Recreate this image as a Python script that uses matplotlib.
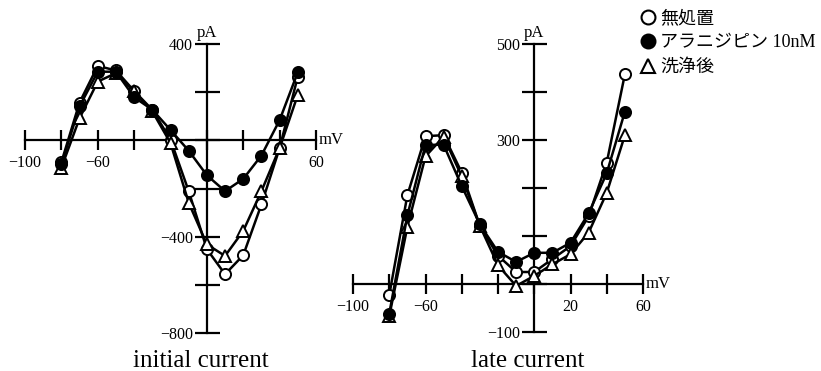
import matplotlib
matplotlib.use("Agg")
import matplotlib.pyplot as plt
from matplotlib.lines import Line2D
from matplotlib.ticker import FixedLocator, FixedFormatter

SERIF = "Liberation Serif"
JP = ["Liberation Serif", "Noto Sans CJK JP", "DejaVu Sans"]

# membrane potential (mV)
voltage = [-80, -70, -60, -50, -40, -30, -20, -10, 0, 10, 20, 30, 40, 50]

# initial current (pA)
initial_control = [-91, 157, 309, 290, 205, 127, 3, -211, -452, -556, -477, -266, -32, 265]
initial_drug = [-100, 141, 285, 285, 179, 127, 43, -43, -145, -211, -160, -63, 84, 283]
initial_wash = [-114, 92, 244, 279, 203, 120, -11, -259, -432, -480, -376, -211, -32, 189]

# late current (pA)
late_control = [-23, 185, 308, 310, 232, 121, 59, 25, 25, 52, 79, 141, 253, 437]
late_drug = [-62, 143, 290, 290, 204, 124, 67, 46, 65, 65, 86, 147, 231, 359]
late_wash = [-67, 119, 266, 307, 224, 121, 39, -4, 17, 41, 62, 107, 190, 310]

legend_labels = ["無処置", "アラニジピン 10nM", "洗浄後"]

W, H = 821, 371
fig = plt.figure(figsize=(W / 100, H / 100), dpi=100)


def make_axes(px_left, px_right, px_top, px_bottom, xlim, ylim):
    ax = fig.add_axes([px_left / W, 1 - px_bottom / H,
                       (px_right - px_left) / W, (px_bottom - px_top) / H])
    ax.set_xlim(*xlim)
    ax.set_ylim(*ylim)
    for s in ("top", "right"):
        ax.spines[s].set_visible(False)
    for s in ("left", "bottom"):
        ax.spines[s].set_position(("data", 0))
        ax.spines[s].set_linewidth(1.6)
    ax.patch.set_alpha(0)
    return ax


def style_ticks(ax, xticks, xlabels, yticks, ylabels):
    ax.xaxis.set_major_locator(FixedLocator(xticks))
    ax.xaxis.set_major_formatter(FixedFormatter(xlabels))
    ax.yaxis.set_major_locator(FixedLocator(yticks))
    ax.yaxis.set_major_formatter(FixedFormatter(ylabels))
    ax.tick_params(axis="x", direction="inout", length=15, width=1.6, pad=3,
                   labelsize=11.5)
    ax.tick_params(axis="y", direction="inout", length=18, width=1.6, pad=1,
                   labelsize=11.5)
    for lab in ax.get_xticklabels() + ax.get_yticklabels():
        lab.set_fontfamily(SERIF)


def plot_series(ax, ctrl, drug, wash):
    common = dict(color="black", lw=1.8, ms=8, mew=1.4, clip_on=False)
    ax.plot(voltage, ctrl, marker="o", mfc="white", mec="black", zorder=3, **common)
    ax.plot(voltage, wash, marker="^", mfc="white", mec="black", zorder=4,
            **{**common, "ms": 9})
    ax.plot(voltage, drug, marker="o", mfc="black", mec="black", zorder=5, **common)


def fmt(v):
    return f"\u2212{abs(v)}" if v < 0 else f"{v}"


# initial current panel
ax1 = make_axes(25, 316, 44, 333, (-100, 60), (-800, 400))
xt1 = list(range(-100, 61, 20))
yt1 = list(range(-800, 401, 200))
style_ticks(ax1, xt1, [fmt(v) if v in (-100, -60, 60) else "" for v in xt1],
            yt1, [fmt(v) if v in (-800, -400, 400) else "" for v in yt1])
plot_series(ax1, initial_control, initial_drug, initial_wash)
ax1.text(61.5, 0, "mV", ha="left", va="center", fontsize=12, fontfamily=SERIF)
ax1.text(0, 412, "pA", ha="center", va="bottom", fontsize=12, fontfamily=SERIF)
ax1.text(-3.2, -941, "initial current", ha="center", va="baseline", fontsize=18,
         fontfamily=SERIF)

# late current panel
ax2 = make_axes(353, 643, 44, 332, (-100, 60), (-100, 500))
xt2 = list(range(-100, 61, 20))
yt2 = list(range(-100, 501, 100))
style_ticks(ax2, xt2, [fmt(v) if v in (-100, -60, 20, 60) else "" for v in xt2],
            yt2, [fmt(v) if v in (-100, 300, 500) else "" for v in yt2])
plot_series(ax2, late_control, late_drug, late_wash)
ax2.text(61.5, 0, "mV", ha="left", va="center", fontsize=12, fontfamily=SERIF)
ax2.text(0, 506, "pA", ha="center", va="bottom", fontsize=12, fontfamily=SERIF)
ax2.text(-3.4, -173, "late current", ha="center", va="baseline", fontsize=18,
         fontfamily=SERIF)

handles = [
    Line2D([], [], ls="none", marker="o", ms=10, mfc="white", mec="black", mew=1.5),
    Line2D([], [], ls="none", marker="o", ms=10, mfc="black", mec="black", mew=1.5),
    Line2D([], [], ls="none", marker="^", ms=10, mfc="white", mec="black", mew=1.5),
]
leg = fig.legend(handles, legend_labels, loc="upper left",
                 bbox_to_anchor=(641 / W, 1 - 10 / H), frameon=False,
                 handlelength=0.8, handletextpad=0.25, labelspacing=0.42,
                 borderaxespad=0, borderpad=0,
                 prop={"family": JP, "size": 13})

fig.savefig("out.png", dpi=100)
